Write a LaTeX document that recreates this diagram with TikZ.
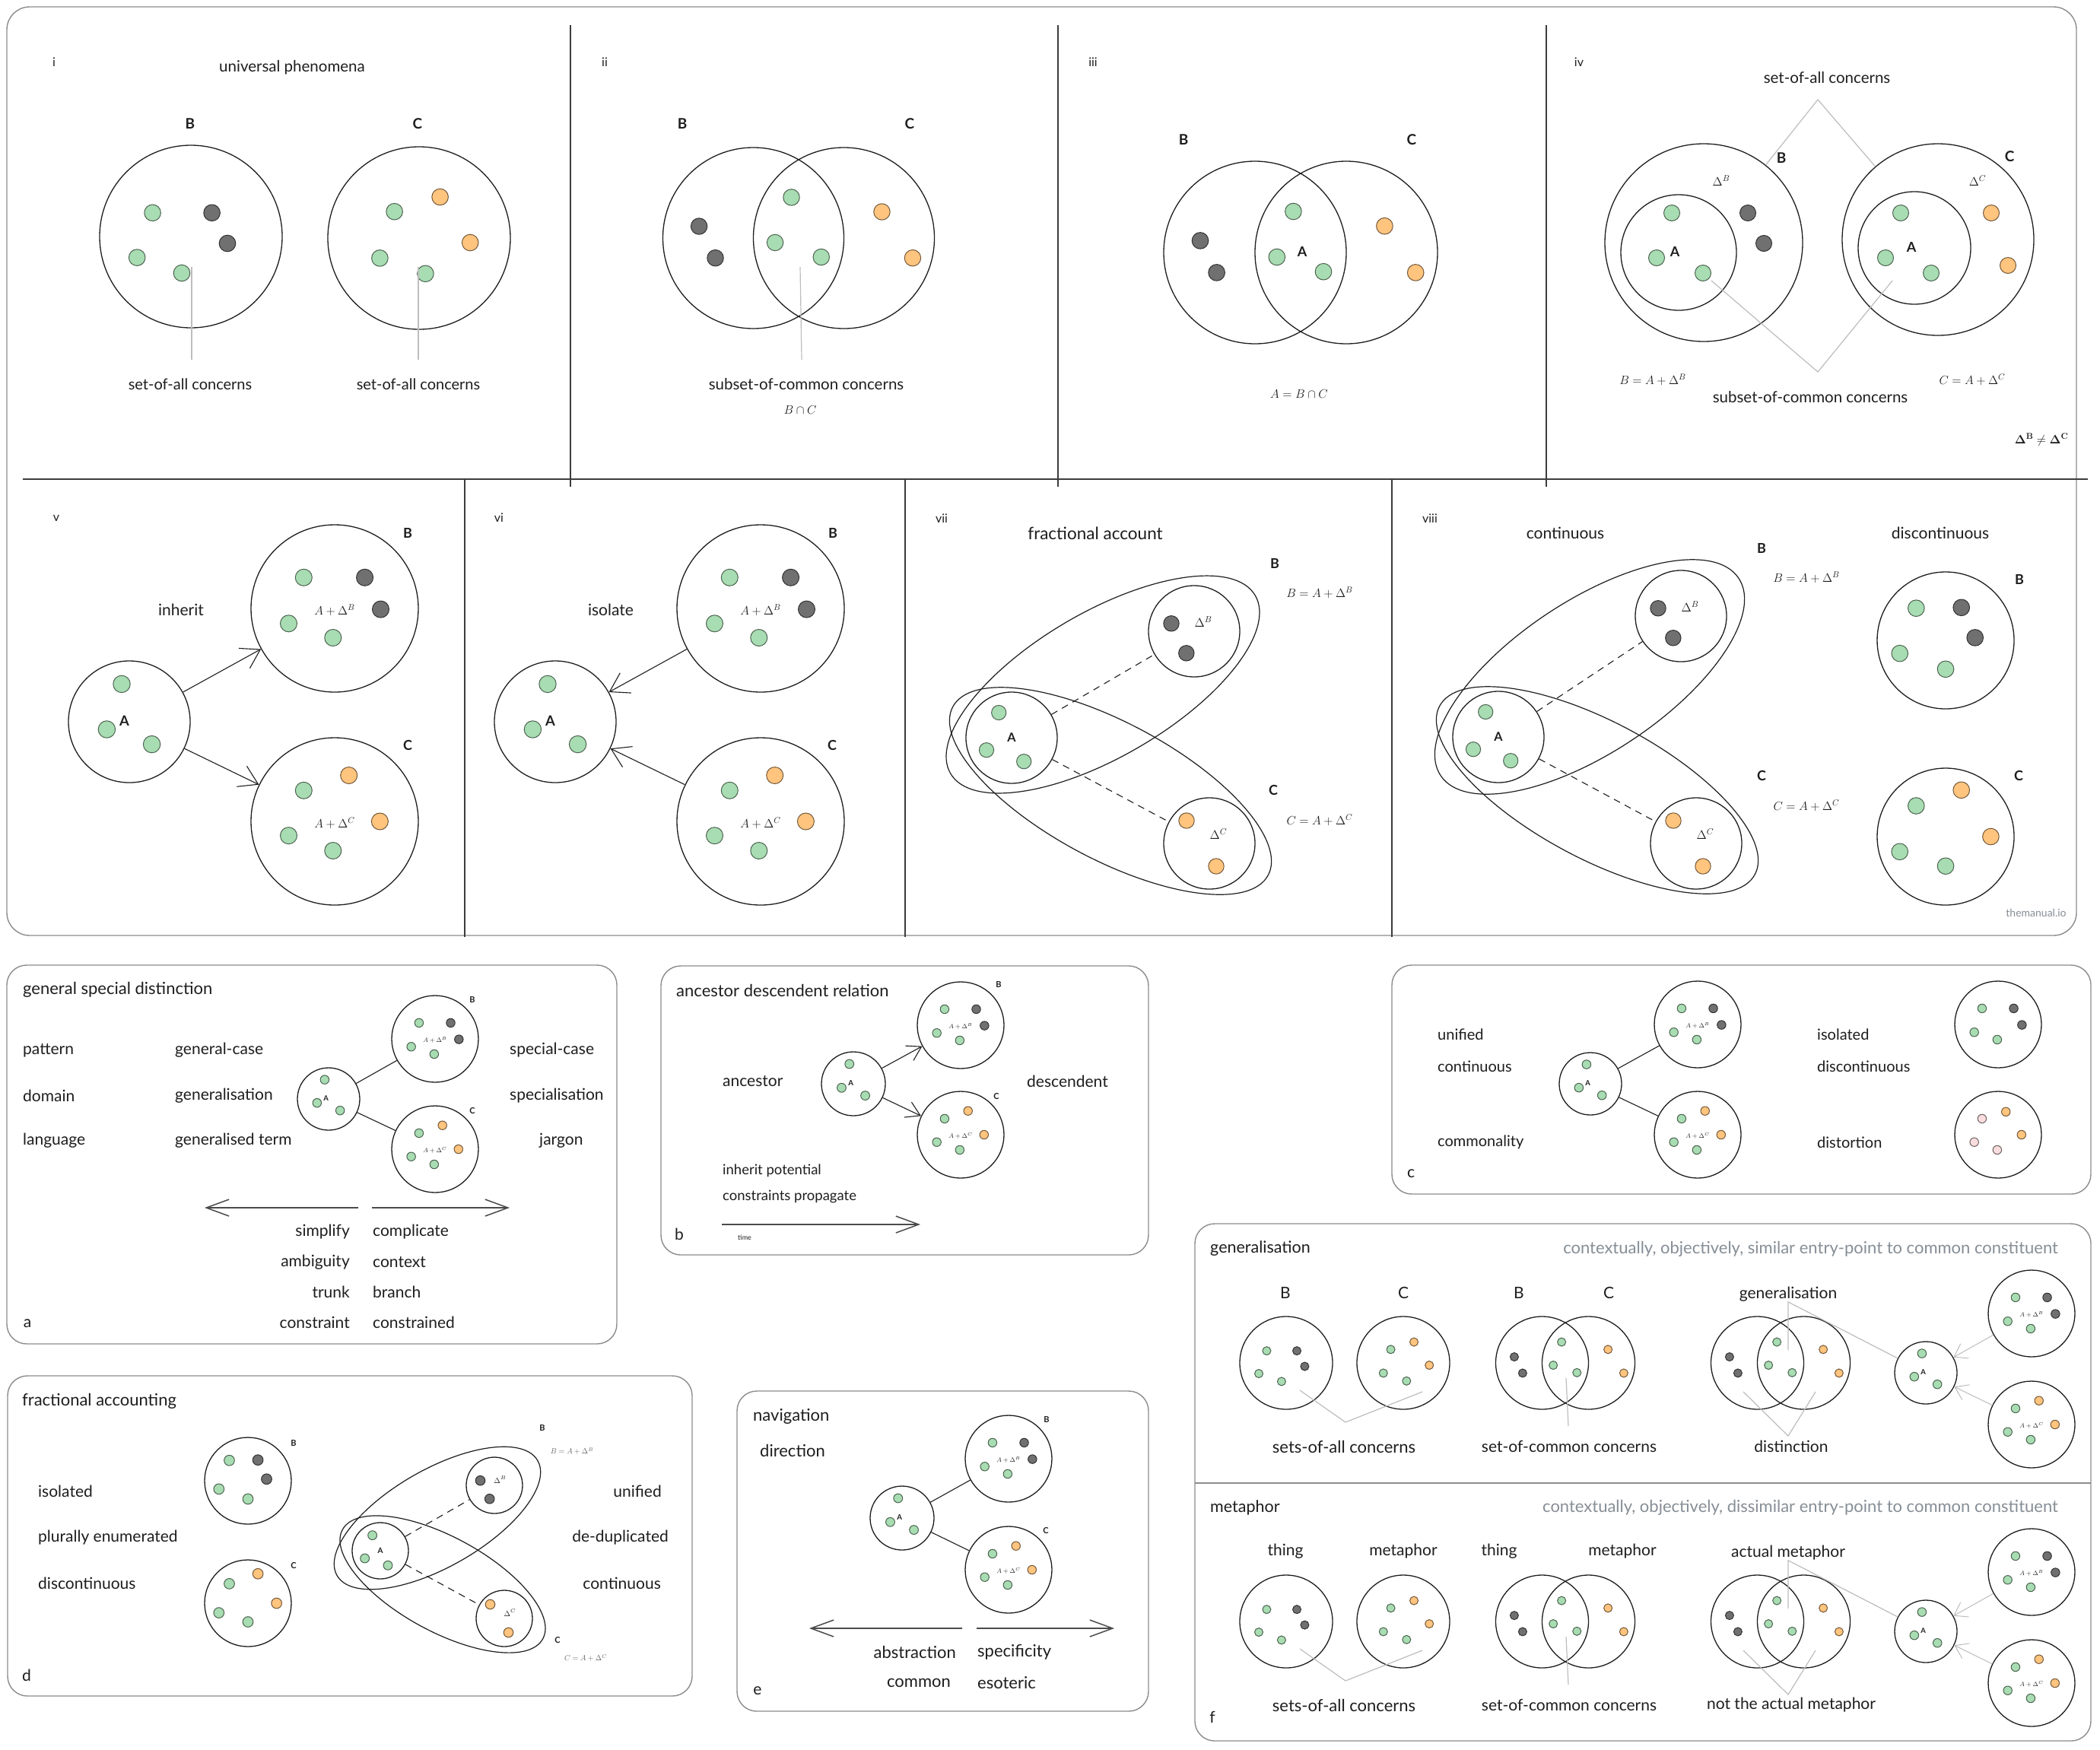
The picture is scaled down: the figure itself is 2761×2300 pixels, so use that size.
\RequirePackage{fix-cm}
\documentclass[tikz,border=0pt]{standalone}
\usepackage[no-math]{fontspec}
\setmainfont{Lato}
\usetikzlibrary{arrows.meta,calc}
\definecolor{ink}{HTML}{1E1E1E}
\definecolor{leaf}{HTML}{A8DCB2}
\definecolor{stone}{HTML}{707070}
\definecolor{peach}{HTML}{FFC47E}
\definecolor{blush}{HTML}{F9DCDD}
\definecolor{slate}{HTML}{868E96}
\definecolor{rulegrey}{HTML}{BDBDBD}
\definecolor{framegrey}{HTML}{8C8C8C}
\definecolor{divgrey}{HTML}{3C3C3C}
\tikzset{
  set/.style={circle, draw=ink, line width=1.3pt, minimum size=#1, inner sep=0pt},
  dot/.style={draw=#1!45!black, fill=#1, line width=1pt},
  lbl/.style={font=\fontsize{#1}{#1}\selectfont, text=ink, inner sep=0pt},
  lbl/.default=21,
  cap/.style={font=\fontsize{#1}{#1}\selectfont\bfseries, text=ink, inner sep=0pt},
  cap/.default=19,
  mth/.style={font=\fontsize{#1}{#1}\selectfont, text=ink, inner sep=0pt},
  mth/.default=16,
  frm/.style={draw=framegrey, line width=1.4pt, rounded corners=#1},
  frm/.default=26pt,
  divl/.style={draw=divgrey, line width=1.3pt},
  hull/.style={draw=ink, line width=1.2pt},
  lead/.style={draw=rulegrey, line width=1.2pt},
  tie/.style={draw=ink, line width=1.1pt},
  dashl/.style={draw=ink, line width=1.1pt, dash pattern=on 9pt off 7pt},
  ar/.style={-{Straight Barb[length=24pt,width=30pt]}, line width=1.1pt, draw=ink},
  arsm/.style={-{Straight Barb[length=18pt,width=22pt]}, line width=1.1pt, draw=ink},
  bar/.style={-{Straight Barb[length=30pt,width=22pt]}, line width=1.5pt, draw=ink!80},
  garr/.style={-{Straight Barb[length=16pt,width=22pt]}, line width=1pt, draw=rulegrey},
  % clusters, #1 = radius
  bset/.pic={
    \node[set={2*#1}] (-c) {};
    \foreach \u/\v/\cl in {-.37/-.37/leaf,.36/-.37/stone,.55/.01/stone,-.55/.18/leaf,-.02/.35/leaf}
      \draw[dot=\cl] (\u*#1,\v*#1) circle[radius=.1*#1];
    \pgfmathsetmacro\picfs{.145*#1}
    \node[mth=\picfs] (-t) at (0,.02*#1) {$A+\Delta^{B}$};
  },
  cset/.pic={
    \node[set={2*#1}] (-c) {};
    \foreach \u/\v/\cl in {.17/-.55/peach,-.37/-.37/leaf,.54/0/peach,-.55/.17/leaf,-.02/.35/leaf}
      \draw[dot=\cl] (\u*#1,\v*#1) circle[radius=.1*#1];
    \pgfmathsetmacro\picfs{.145*#1}
    \node[mth=\picfs] (-t) at (0,.02*#1) {$A+\Delta^{C}$};
  },
  bbare/.pic={
    \node[set={2*#1}] (-c) {};
    \foreach \u/\v/\cl in {-.37/-.37/leaf,.36/-.37/stone,.55/.01/stone,-.55/.18/leaf,-.02/.35/leaf}
      \draw[dot=\cl] (\u*#1,\v*#1) circle[radius=.1*#1];
  },
  cpink/.pic={
    \node[set={2*#1}] (-c) {};
    \foreach \u/\v/\cl in {.18/-.53/peach,-.37/-.37/blush,.54/0/peach,-.55/.17/blush,-.02/.35/blush}
      \draw[dot=\cl] (\u*#1,\v*#1) circle[radius=.1*#1];
  },
  aset/.pic={
    \node[set={2*#1}] (-c) {};
    \foreach \u/\v in {-.125/-.62,-.37/.125,.37/.37}
      \draw[dot=leaf] (\u*#1,\v*#1) circle[radius=.14*#1];
    \pgfmathsetmacro\picfs{.23*#1}
    \node[cap=\picfs] (-t) at (-.08*#1,-.02*#1) {A};
  },
  ainner/.pic={
    \node[set={2*#1}] (-c) {};
    \foreach \u/\v in {-.28/-.55,-.55/.27,.27/.52}
      \draw[dot=leaf] (\u*#1,\v*#1) circle[radius=.16*#1];
    \pgfmathsetmacro\picfs{.27*#1}
    \node[cap=\picfs] (-t) at (0,0) {A};
  },
  dbset/.pic={
    \node[set={2*#1}] (-c) {};
    \foreach \u/\v in {-.5/-.17,-.17/.48}
      \draw[dot=stone] (\u*#1,\v*#1) circle[radius=.17*#1];
    \pgfmathsetmacro\picfs{.27*#1}
    \node[mth=\picfs] (-t) at (.2*#1,-.2*#1) {$\Delta^{B}$};
  },
  dcset/.pic={
    \node[set={2*#1}] (-c) {};
    \foreach \u/\v in {-.5/-.5,.15/.5}
      \draw[dot=peach] (\u*#1,\v*#1) circle[radius=.17*#1];
    \pgfmathsetmacro\picfs{.27*#1}
    \node[mth=\picfs] (-t) at (.2*#1,-.2*#1) {$\Delta^{C}$};
  },
  bwide/.pic={
    \node[set={2*#1}] (-c) {};
    \foreach \u/\v/\cl in {-.42/-.26/leaf,.23/-.26/stone,.4/.075/stone,-.59/.23/leaf,-.1/.4/leaf}
      \draw[dot=\cl] (\u*#1,\v*#1) circle[radius=.09*#1];
  },
  cwide/.pic={
    \node[set={2*#1}] (-c) {};
    \foreach \u/\v/\cl in {.23/-.45/peach,-.27/-.29/leaf,.56/.05/peach,-.43/.22/leaf,.07/.39/leaf}
      \draw[dot=\cl] (\u*#1,\v*#1) circle[radius=.09*#1];
  },
  bloose/.pic={
    \node[set={2*#1}] (-c) {};
    \foreach \u/\v/\cl in {-.43/-.47/leaf,.23/-.48/stone,.43/-.04/stone,-.67/.19/leaf,0/.42/leaf}
      \draw[dot=\cl] (\u*#1,\v*#1) circle[radius=.12*#1];
  },
  cloose/.pic={
    \node[set={2*#1}] (-c) {};
    \foreach \u/\v/\cl in {.23/-.68/peach,-.43/-.45/leaf,.66/0/peach,-.67/.22/leaf,0/.43/leaf}
      \draw[dot=\cl] (\u*#1,\v*#1) circle[radius=.12*#1];
  },
  venn/.pic={
    \node[set={2*#1}] (-l) at (-.5*#1,0) {};
    \node[set={2*#1}] (-r) at (.5*#1,0) {};
    \foreach \u/\v/\cl in {-1.1/-.13/stone,-.92/.22/stone,-.08/-.45/leaf,-.26/.05/leaf,.25/.21/leaf,.92/-.29/peach,1.26/.22/peach}
      \draw[dot=\cl] (\u*#1,\v*#1) circle[radius=.09*#1];
  },
}
\begin{document}
\begin{tikzpicture}[x=1pt, y=-1pt]
\fill[white] (0,0) rectangle (2761,2300);
\useasboundingbox (0,0) rectangle (2761,2300);

% top frame: i-iv and v-viii
\draw[frm=30pt] (9,9) rectangle (2730,1230);
\draw[divl] (30,630) -- (2745,630);
\foreach \x in {750,1391,2033} \draw[divl] (\x,33) -- (\x,640);
\foreach \x in {611,1190,1830} \draw[divl] (\x,630) -- (\x,1232);
\foreach \n/\x/\y in {i/71/82, ii/795/82, iii/1437/82, iv/2076/82, v/74/681, vi/656/681, vii/1238/682, viii/1880/682}
  \node[lbl=16] (n\n) at (\x,\y) {\n};

% i
\node[lbl=20.5] (iT) at (384,89) {universal phenomena};
\pic (iB) at (251,311) {bwide=120};
\pic (iC) at (551,313) {cwide=120};
\node[cap] (iBl) at (250,163) {B};
\node[cap] (iCl) at (549,163) {C};
\node[lbl=20] (iBs) at (250,505) {set-of-all concerns};
\node[lbl=20] (iCs) at (550,505) {set-of-all concerns};
\coordinate (iBx) at (252,351);
\coordinate (iBy) at (252,473);
\coordinate (iCx) at (550,351);
\coordinate (iCy) at (550,473);
\draw[lead] (iBx) -- (iBy);
\draw[lead] (iCx) -- (iCy);

% ii
\pic (iiV) at (1050,313) {venn=119};
\node[cap] (iiBl) at (897,163) {B};
\node[cap] (iiCl) at (1196,163) {C};
\node[lbl=20.5] (iiS) at (1060,505) {subset-of-common concerns};
\node[mth] (iiM) at (1052,539) {$B\cap C$};
\coordinate (iiX) at (1052,351);
\coordinate (iiY) at (1054,473);
\draw[lead] (iiX) -- (iiY);

% iii
\pic (iiiV) at (1710,332) {venn=120};
\node[cap] (iiiBl) at (1556,184) {B};
\node[cap] (iiiCl) at (1856,184) {C};
\node[cap=18] (iiiA) at (1712,331) {A};
\node[mth] (iiiM) at (1708,518) {$A=B\cap C$};

% iv
\node[lbl=20.5] (ivT) at (2402,102) {set-of-all concerns};
\node[lbl=20.5] (ivS) at (2380,522) {subset-of-common concerns};
\node[set=260] (ivB) at (2240,319) {};
\node[set=152] (ivBa) at (2207,332) {};
\node[set=252] (ivC) at (2548,315) {};
\node[set=148] (ivCa) at (2517,326) {};
\foreach \x/\y/\cl in {2198/280/leaf,2298/280/stone,2319/320/stone,2178/339/leaf,2239/359/leaf,
                       2499/280/leaf,2618/280/peach,2640/349/peach,2479/339/leaf,2539/359/leaf}
  \draw[dot=\cl] (\x,\y) circle[radius=10.5];
\node[cap] (ivBl) at (2342,208) {B};
\node[cap] (ivCl) at (2642,206) {C};
\node[mth] (ivDB) at (2263,238) {$\Delta^{B}$};
\node[mth] (ivDC) at (2600,238) {$\Delta^{C}$};
\node[cap=18] (ivA1) at (2202,331) {A};
\node[cap=18] (ivA2) at (2513,325) {A};
\node[mth] (ivEB) at (2173,499) {$B=A+\Delta^{B}$};
\node[mth] (ivEC) at (2593,499) {$C=A+\Delta^{C}$};
\node[mth] (ivNe) at (2684,578) {$\mathbf{\Delta}^{\mathbf{B}}\neq\mathbf{\Delta}^{\mathbf{C}}$};
\coordinate (ivTop) at (2390,131);
\coordinate (ivBot) at (2390,489);
\coordinate (ivL) at (2250,369);
\coordinate (ivR) at (2488,369);
\draw[lead] (ivB) -- (ivTop) -- (ivC);
\draw[lead] (ivL) -- (ivBot) -- (ivR);

% v
\pic (vA) at (170,949) {aset=80};
\pic (vB) at (440,800) {bset=110};
\pic (vC) at (440,1080) {cset=110};
\node[cap=18] (vBl) at (536,701) {B};
\node[cap=18] (vCl) at (536,980) {C};
\node[lbl] (vT) at (238,802) {inherit};
\draw[ar] (vA-c) -- (vB-c);
\draw[ar] (vA-c) -- (vC-c);

% vi
\pic (viA) at (730,949) {aset=80};
\pic (viB) at (1000,800) {bset=110};
\pic (viC) at (1000,1080) {cset=110};
\node[cap=18] (viBl) at (1095,701) {B};
\node[cap=18] (viCl) at (1094,980) {C};
\node[lbl] (viT) at (803,802) {isolate};
\draw[ar] (viB-c) -- (viA-c);
\draw[ar] (viC-c) -- (viA-c);

% vii
\node[lbl=22.5] (viiT) at (1440,701) {fractional account};
\draw[hull, rotate around={30.3:(1450,900)}] (1450,900) ellipse[x radius=232, y radius=95];
\draw[hull, rotate around={-28.1:(1460,1040)}] (1460,1040) ellipse[x radius=235, y radius=90];
\pic (viiA) at (1330,970) {ainner=60};
\pic (viiDB) at (1570,830) {dbset=60};
\pic (viiDC) at (1590,1109) {dcset=60};
\node[cap=18] (viiBl) at (1676,741) {B};
\node[mth] (viiEB) at (1735,779) {$B=A+\Delta^{B}$};
\node[cap=18] (viiCl) at (1674,1039) {C};
\node[mth] (viiEC) at (1735,1078) {$C=A+\Delta^{C}$};
\draw[dashl] (viiA-c) -- (viiDB-c);
\draw[dashl] (viiA-c) -- (viiDC-c);

% viii
\node[lbl] (viiiT1) at (2058,701) {continuous};
\node[lbl] (viiiT2) at (2551,701) {discontinuous};
\draw[hull, rotate around={33.5:(2090,890)}] (2090,890) ellipse[x radius=235, y radius=100];
\draw[hull, rotate around={-28.1:(2100,1039)}] (2100,1039) ellipse[x radius=235, y radius=90];
\pic (viiiA) at (1970,969) {ainner=60};
\pic (viiiDB) at (2210,810) {dbset=60};
\pic (viiiDC) at (2230,1109) {dcset=60};
\node[cap=18] (viiiBl) at (2316,721) {B};
\node[mth] (viiiEB) at (2375,759) {$B=A+\Delta^{B}$};
\node[cap=18] (viiiCl) at (2316,1020) {C};
\node[mth] (viiiEC) at (2375,1059) {$C=A+\Delta^{C}$};
\draw[dashl] (viiiA-c) -- (viiiDB-c);
\draw[dashl] (viiiA-c) -- (viiiDC-c);
\pic (viiiI) at (2558,842) {bloose=90};
\pic (viiiD) at (2558,1100) {cloose=90};
\node[cap=18] (viiiIl) at (2655,762) {B};
\node[cap=18] (viiiDl) at (2654,1020) {C};
\node[lbl=14, text=slate] (mark) at (2677,1200) {themanual.io};

% a
\draw[frm] (9,1269) rectangle (811,1767);
\node[lbl=22, anchor=west] (aT) at (30,1301) {general special distinction};
\foreach \w/\y [count=\k] in {pattern/1381, domain/1441, language/1500}
  \node[lbl, anchor=west] (aL\k) at (30,\y) {\w};
\foreach \w/\y [count=\k] in {general-case/1381, generalisation/1441, generalised term/1500}
  \node[lbl, anchor=west] (aM\k) at (230,\y) {\w};
\node[lbl, anchor=west] (aR1) at (670,1381) {special-case};
\node[lbl, anchor=west] (aR2) at (670,1441) {specialisation};
\node[lbl, anchor=west] (aR3) at (709,1500) {jargon};
\pic (aA) at (432,1445) {aset=41};
\pic (aB) at (572,1366) {bset=57};
\pic (aC) at (572,1511) {cset=57};
\node[cap=11] (aBl) at (621,1315) {B};
\node[cap=11] (aCl) at (621,1460) {C};
\draw[tie] (aA-c) -- (aB-c);
\draw[tie] (aA-c) -- (aC-c);
\coordinate (aP1) at (471,1588);
\coordinate (aP2) at (269,1588);
\coordinate (aP3) at (489,1588);
\coordinate (aP4) at (670,1588);
\draw[bar] (aP1) -- (aP2);
\draw[bar] (aP3) -- (aP4);
\foreach \w/\y [count=\k] in {simplify/1620, ambiguity/1660, trunk/1699, constraint/1739}
  \node[lbl, anchor=east] (aS\k) at (460,\y) {\w};
\foreach \w/\y [count=\k] in {complicate/1620, context/1660, branch/1699, constrained/1739}
  \node[lbl, anchor=west] (aK\k) at (490,\y) {\w};
\node[lbl] (aTag) at (36,1740) {a};

% b
\draw[frm] (869,1270) rectangle (1510,1650);
\node[lbl=22, anchor=west] (bT) at (889,1302) {ancestor descendent relation};
\node[lbl, anchor=west] (bL) at (950,1422) {ancestor};
\node[lbl, anchor=west] (bR) at (1350,1422) {descendent};
\pic (bA) at (1122,1425) {aset=42};
\pic (bB) at (1263,1348) {bset=57};
\pic (bC) at (1263,1492) {cset=57};
\node[cap=11] (bBl) at (1313,1295) {B};
\node[cap=11] (bCl) at (1310,1441) {C};
\draw[arsm] (bA-c) -- (bB-c);
\draw[arsm] (bA-c) -- (bC-c);
\node[lbl=18.5, anchor=west] (bP1) at (950,1539) {inherit potential};
\node[lbl=18.5, anchor=west] (bP2) at (950,1573) {constraints propagate};
\coordinate (bQ1) at (949,1610);
\coordinate (bQ2) at (1210,1610);
\draw[bar] (bQ1) -- (bQ2);
\node[lbl=9, anchor=west] (bTime) at (970,1627) {time};
\node[lbl] (bTag) at (893,1623) {b};

% c
\draw[frm] (1830,1269) rectangle (2749,1570);
\foreach \w/\y [count=\k] in {unified/1360, continuous/1402, commonality/1502}
  \node[lbl=20, anchor=west] (cL\k) at (1890,\y) {\w};
\foreach \w/\y [count=\k] in {isolated/1360, discontinuous/1402, distortion/1502}
  \node[lbl=20, anchor=west] (cR\k) at (2389,\y) {\w};
\pic (cA) at (2091,1425) {aset=41};
\pic (cB) at (2232,1347) {bset=57};
\pic (cC) at (2232,1492) {cset=57};
\draw[tie] (cA-c) -- (cB-c);
\draw[tie] (cA-c) -- (cC-c);
\pic (cI) at (2627,1347) {bbare=57};
\pic (cD) at (2627,1492) {cpink=57};
\node[lbl] (cTag) at (1855,1543) {c};

% d
\draw[frm] (10,1809) rectangle (910,2230);
\node[lbl=22, anchor=west] (dT) at (29,1842) {fractional accounting};
\foreach \w/\y [count=\k] in {isolated/1961, plurally enumerated/2022, discontinuous/2082}
  \node[lbl, anchor=west] (dL\k) at (50,\y) {\w};
\node[lbl, anchor=east] (dR1) at (870,1961) {unified};
\node[lbl, anchor=east] (dR2) at (879,2022) {de-duplicated};
\node[lbl, anchor=east] (dR3) at (869,2082) {continuous};
\pic (dB) at (326,1947) {bloose=57};
\pic (dC) at (326,2108) {cloose=57};
\node[cap=11] (dBl) at (386,1897) {B};
\node[cap=11] (dCl) at (386,2058) {C};
\draw[hull, rotate around={29.8:(575,1996)}] (575,1996) ellipse[x radius=152, y radius=64];
\draw[hull, rotate around={-28.6:(582,2083)}] (582,2083) ellipse[x radius=150, y radius=62];
\pic (dA) at (500,2039) {ainner=37};
\pic (dDB) at (650,1953) {dbset=37};
\pic (dDC) at (663,2128) {dcset=37};
\node[cap=11] (dHBl) at (713,1877) {B};
\node[mth=10, text=ink!70] (dEB) at (752,1908) {$B=A+\Delta^{B}$};
\node[cap=11] (dHCl) at (733,2156) {C};
\node[mth=10, text=ink!70] (dEC) at (770,2180) {$C=A+\Delta^{C}$};
\draw[dashl] (dA-c) -- (dDB-c);
\draw[dashl] (dA-c) -- (dDC-c);
\node[lbl] (dTag) at (35,2203) {d};

% e
\draw[frm] (969,1829) rectangle (1510,2250);
\node[lbl=22, anchor=west] (eT) at (990,1862) {navigation};
\node[lbl=22, anchor=west] (eD) at (999,1907) {direction};
\pic (eA) at (1186,1996) {aset=42};
\pic (eB) at (1326,1918) {bset=57};
\pic (eC) at (1326,2064) {cset=57};
\node[cap=11] (eBl) at (1376,1866) {B};
\node[cap=11] (eCl) at (1375,2012) {C};
\draw[tie] (eA-c) -- (eB-c);
\draw[tie] (eA-c) -- (eC-c);
\coordinate (eP1) at (1265,2141);
\coordinate (eP2) at (1064,2141);
\coordinate (eP3) at (1284,2141);
\coordinate (eP4) at (1465,2141);
\draw[bar] (eP1) -- (eP2);
\draw[bar] (eP3) -- (eP4);
\node[lbl=22, anchor=east] (eL1) at (1257,2172) {abstraction};
\node[lbl=22, anchor=east] (eL2) at (1250,2213) {common};
\node[lbl=22, anchor=west] (eR1) at (1285,2172) {specificity};
\node[lbl=22, anchor=west] (eR2) at (1285,2213) {esoteric};
\node[lbl] (eTag) at (996,2223) {e};

% generalisation / metaphor (f)
\draw[frm] (1571,1609) rectangle (2749,2289);
\draw[frm=0pt] (1571,1950) -- (2749,1950);
\foreach \dy/\pre/\ttl/\kind/\tA/\tB/\tC/\tD/\xc/\xd/\tE/\tF in
  {0/g/generalisation/similar/B/C/B/C/1997/2115/generalisation/distinction,
   340/m/metaphor/dissimilar/thing/metaphor/thing/metaphor/1971/2133/actual metaphor/not the actual metaphor}
{
\begin{scope}[shift={(0,\dy)}]
  \node[lbl=21.5, anchor=west] (\pre T) at (1591,1642) {\ttl};
  \node[lbl=22, text=slate, anchor=east] (\pre N) at (2706,1642) {contextually, objectively, \kind\ entry-point to common constituent};
  \node[lbl] (\pre L1) at (1690,1700) {\tA};
  \node[lbl] (\pre L2) at (1845,1700) {\tB};
  \node[lbl] (\pre L3) at (\xc,1700) {\tC};
  \node[lbl] (\pre L4) at (\xd,1700) {\tD};
  \node[lbl] (\pre G) at (2351,1702) {\tE};
  \pic (\pre B) at (1691,1792) {bwide=61};
  \pic (\pre C) at (1845,1792) {cwide=61};
  \pic (\pre V) at (2058,1792) {venn=61};
  \pic (\pre W) at (2341,1792) {venn=61};
  \pic (\pre A) at (2532,1805) {aset=41};
  \pic (\pre R) at (2671,1727) {bset=57};
  \pic (\pre S) at (2671,1873) {cset=57};
  \node[lbl=22] (\pre S1) at (1767,1902) {sets-of-all concerns};
  \node[lbl] (\pre S2) at (2063,1902) {set-of-common concerns};
  \node[lbl] (\pre S3) at (2355,1902) {\tF};
  \coordinate (\pre p1) at (1709,1828);
  \coordinate (\pre p2) at (1769,1870);
  \coordinate (\pre p3) at (1870,1830);
  \coordinate (\pre q1) at (2059,1812);
  \coordinate (\pre q2) at (2062,1875);
  \coordinate (\pre r1) at (2351,1775);
  \coordinate (\pre s1) at (2292,1830);
  \coordinate (\pre s2) at (2351,1888);
  \coordinate (\pre s3) at (2387,1830);
  \draw[lead] (\pre p1) -- (\pre p2) -- (\pre p3);
  \draw[lead] (\pre q1) -- (\pre q2);
  \draw[lead] (\pre r1) -- (\pre G.south) -- (\pre A-c);
  \draw[lead] (\pre s1) -- (\pre s2) -- (\pre s3);
  \draw[garr] (\pre R-c) -- (\pre A-c);
  \draw[garr] (\pre S-c) -- (\pre A-c);
\end{scope}
}
\node[lbl] (fTag) at (1594,2258) {f};
\end{tikzpicture}
\end{document}
